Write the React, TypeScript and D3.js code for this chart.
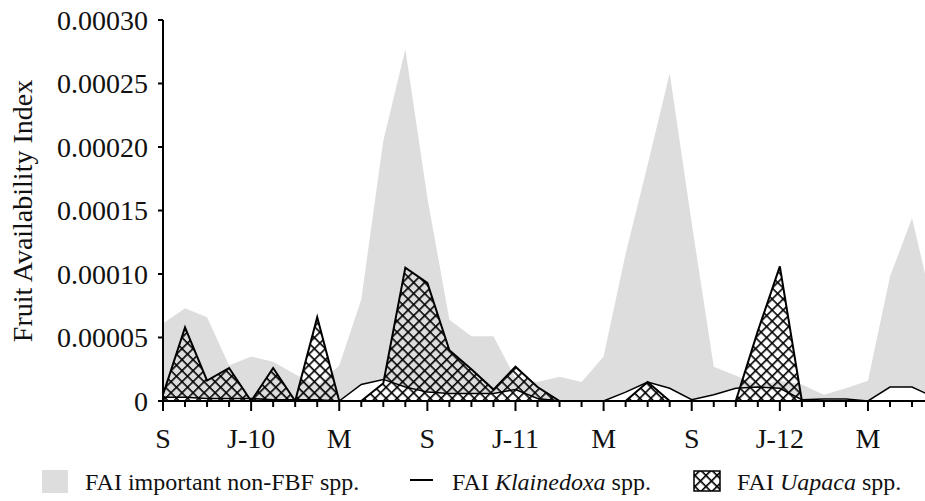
import React from 'react';
import * as d3 from 'd3';

// Monthly samples, Sep 2009 .. Aug 2012
const monthIdx = d3.range(36);
const xTickLabels = ['S', '', '', '', 'J-10', '', '', '', 'M', '', '', '', 'S', '', '', '', 'J-11', '', '', '', 'M', '', '', '', 'S', '', '', '', 'J-12', '', '', '', 'M', '', '', ''];
const yTicks = [0, 0.00005, 0.0001, 0.00015, 0.0002, 0.00025, 0.0003];

const nonFBF = [
  6.1e-5, 7.3e-5, 6.6e-5, 2.8e-5, 3.5e-5, 3.1e-5, 2.1e-5, 1.2e-5, 2.8e-5, 8.0e-5,
  20.5e-5, 27.7e-5, 16.0e-5, 6.4e-5, 5.1e-5, 5.1e-5, 1.8e-5, 1.5e-5, 1.9e-5, 1.5e-5,
  3.5e-5, 11.6e-5, 18.6e-5, 25.8e-5, 14.0e-5, 2.7e-5, 2.0e-5, 1.2e-5, 1.6e-5, 1.3e-5,
  0.5e-5, 1.0e-5, 1.6e-5, 9.8e-5, 14.4e-5, 7.0e-5,
];
const klainedoxa = [
  0.3e-5, 0.3e-5, 0.2e-5, 0.2e-5, 0.2e-5, 0.1e-5, 0.1e-5, 0.1e-5, 0, 1.3e-5,
  1.7e-5, 1.1e-5, 0.7e-5, 0.6e-5, 0.6e-5, 0.6e-5, 0.9e-5, 0.2e-5, 0, 0,
  0, 0.7e-5, 1.5e-5, 1.0e-5, 0.1e-5, 0.5e-5, 1.0e-5, 1.1e-5, 1.0e-5, 0.1e-5,
  0.15e-5, 0.15e-5, 0, 1.1e-5, 1.1e-5, 0.3e-5,
];
const uapaca = [
  0.5e-5, 5.8e-5, 1.6e-5, 2.6e-5, 0, 2.6e-5, 0, 6.6e-5, 0, 0,
  1.4e-5, 10.5e-5, 9.3e-5, 4.0e-5, 2.5e-5, 0.9e-5, 2.7e-5, 1.1e-5, 0, 0,
  0, 0, 1.5e-5, 0, 0, 0, 0, 5.5e-5, 10.6e-5, 0,
  0, 0, 0, 0, 0, 0,
];

const W = 925;
const H = 501;
const FONT = '"Liberation Serif", "Times New Roman", serif';

export default function App() {
  const x = d3.scaleLinear().domain([0, 35]).range([163, 163 + 35 * 22.03]);
  const y = d3.scaleLinear().domain([0, 0.0003]).range([401, 20]);

  const area = (vals: number[]) =>
    d3.area<number>()
      .x((i) => x(i))
      .y0(y(0))
      .y1((i) => y(vals[i]))(monthIdx) || '';
  const line = (vals: number[]) =>
    d3.line<number>()
      .x((i) => x(i))
      .y((i) => y(vals[i]))(monthIdx) || '';

  return (
    <svg width={W} height={H} style={{ position: 'absolute', left: 0, top: 0, background: '#fff' }}>
      <defs>
        <pattern id="xhatch" patternUnits="userSpaceOnUse" width={7.8} height={7.8} patternTransform="rotate(45)">
          <rect x={0} y={0} width={7.8} height={1.6} fill="#000" />
          <rect x={0} y={0} width={1.6} height={7.8} fill="#000" />
        </pattern>
        <clipPath id="plotclip">
          <rect x={163} y={0} width={W - 163} height={402} />
        </clipPath>
      </defs>

      <g clipPath="url(#plotclip)">
        <path d={area(nonFBF)} fill="#dddddd" stroke="none" />
        <path d={area(klainedoxa)} fill="#ffffff" stroke="none" />
        <path d={line(klainedoxa)} fill="none" stroke="#000" strokeWidth={1.5} />
        <path d={area(uapaca)} fill="url(#xhatch)" stroke="none" />
        <path d={line(uapaca)} fill="none" stroke="#000" strokeWidth={2} strokeLinejoin="miter" />
      </g>

      {/* y axis */}
      <line x1={163} x2={163} y1={y(0.0003)} y2={y(0) + 1} stroke="#000" strokeWidth={2} />
      {yTicks.map((t) => (
        <g key={t}>
          <line x1={158} x2={163} y1={y(t)} y2={y(t)} stroke="#000" strokeWidth={2} />
          <text x={148} y={y(t)} dy="0.35em" textAnchor="end" fontFamily={FONT} fontSize={28} fill="#111">
            {t === 0 ? '0' : t.toFixed(5)}
          </text>
        </g>
      ))}
      <text
        transform={`translate(32,211) rotate(-90)`}
        textAnchor="middle"
        fontFamily={FONT}
        fontSize={28}
        fill="#111"
      >
        Fruit Availability Index
      </text>

      {/* x axis */}
      <line x1={162} x2={W} y1={y(0)} y2={y(0)} stroke="#000" strokeWidth={2} />
      {monthIdx.map((i) => (
        <g key={i}>
          <line
            x1={x(i)}
            x2={x(i)}
            y1={y(0)}
            y2={y(0) + (xTickLabels[i] ? 10 : 6)}
            stroke="#000"
            strokeWidth={2}
          />
          {xTickLabels[i] && (
            <text x={x(i)} y={448} textAnchor="middle" fontFamily={FONT} fontSize={28} fill="#111">
              {xTickLabels[i]}
            </text>
          )}
        </g>
      ))}

      {/* legend */}
      <rect x={42} y={470} width={26} height={23} fill="#dddddd" />
      <text x={85} y={490} fontFamily={FONT} fontSize={24} fill="#111">
        FAI important non-FBF spp.
      </text>
      <line x1={410} x2={433} y1={480} y2={480} stroke="#000" strokeWidth={2} />
      <text x={452} y={490} fontFamily={FONT} fontSize={24} fill="#111">
        FAI <tspan fontStyle="italic">Klainedoxa</tspan> spp.
      </text>
      <rect x={694} y={471} width={26} height={20} fill="url(#xhatch)" stroke="#000" strokeWidth={1.5} />
      <text x={737} y={490} fontFamily={FONT} fontSize={24} fill="#111">
        FAI <tspan fontStyle="italic">Uapaca</tspan> spp.
      </text>
    </svg>
  );
}
